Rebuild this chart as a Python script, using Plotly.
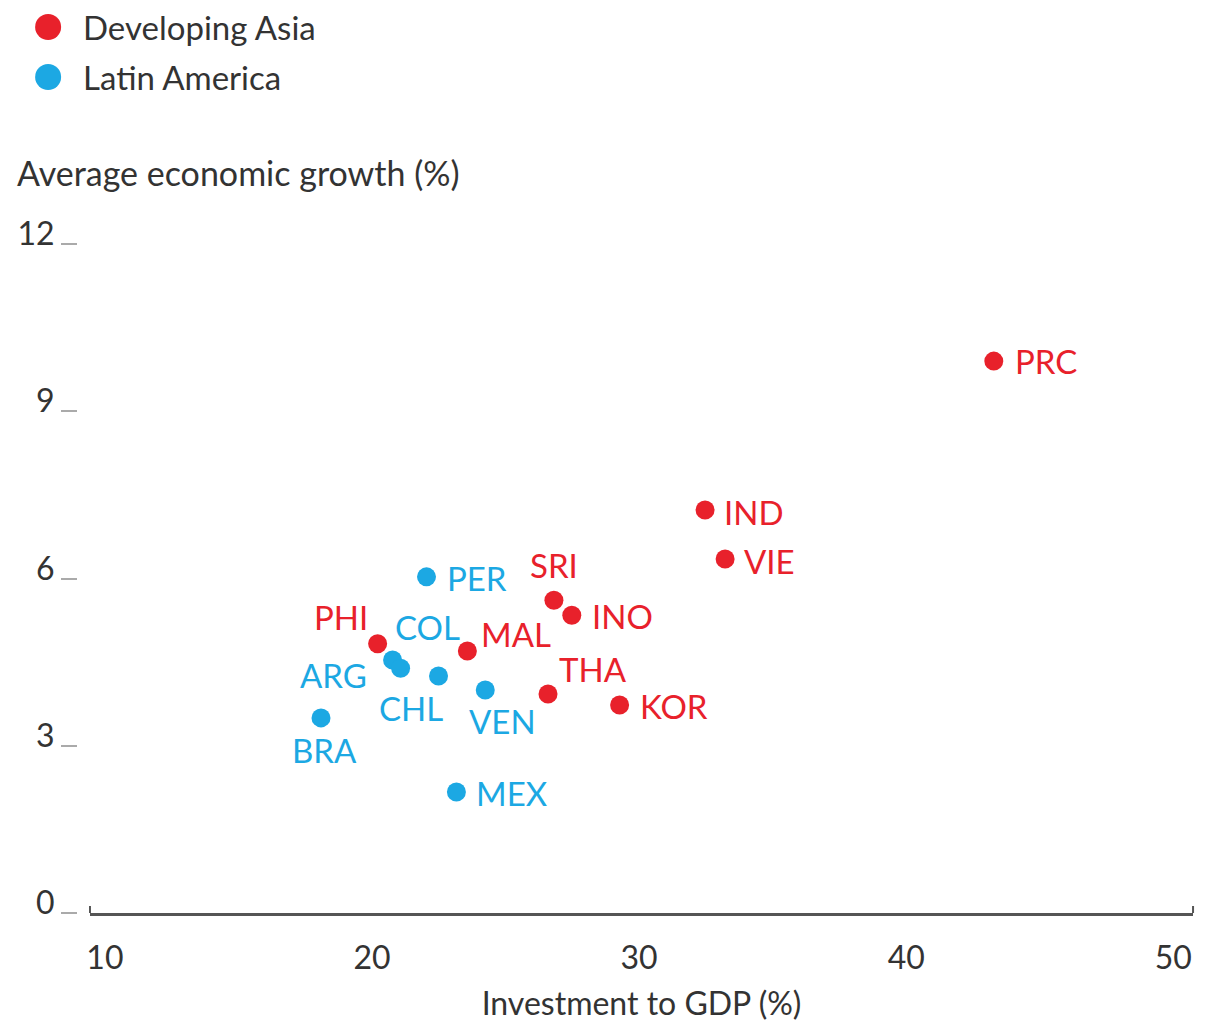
import plotly.graph_objects as go

# Investment to GDP (%) vs average economic growth (%)
asia_codes = ["PRC", "IND", "VIE", "SRI", "INO", "MAL", "PHI", "THA", "KOR"]
asia_invest = [43.28, 32.47, 33.22, 26.81, 27.48, 23.57, 20.21, 26.59, 29.27]
asia_growth = [9.90, 7.23, 6.35, 5.61, 5.34, 4.70, 4.83, 3.93, 3.73]

latam_codes = ["PER", "COL", "ARG", "CHL", "VEN", "BRA", "MEX"]
latam_invest = [22.04, 20.77, 21.07, 22.49, 24.24, 18.09, 23.16]
latam_growth = [6.03, 4.54, 4.39, 4.25, 4.00, 3.50, 2.17]

x_ticks = [10, 20, 30, 40, 50]
y_ticks = [0, 3, 6, 9, 12]

RED = "#e8212b"
BLUE = "#1ca8e3"
TXT = "#333333"
FONT = "Lato"

# label placement: (xanchor, xshift, yshift)
label_pos = {
    "PRC": ("left", 19, 0), "IND": ("left", 17, -2), "VIE": ("left", 17, -2),
    "SRI": ("center", 0, 35), "INO": ("left", 18, -1), "MAL": ("left", 12, 17),
    "PHI": ("right", -8, 27), "THA": ("left", 9, 25), "KOR": ("left", 18, -1),
    "PER": ("left", 18, -1), "COL": ("left", 0, 33), "ARG": ("right", -32, -7),
    "CHL": ("center", -28, -32), "VEN": ("center", 17, -31), "BRA": ("center", 3, -32),
    "MEX": ("left", 18, -1),
}

fig = go.Figure()
fig.add_trace(go.Scatter(x=asia_invest, y=asia_growth, mode="markers", name="Developing Asia",
                         marker=dict(color=RED, size=19), hovertext=asia_codes))
fig.add_trace(go.Scatter(x=latam_invest, y=latam_growth, mode="markers", name="Latin America",
                         marker=dict(color=BLUE, size=19), hovertext=latam_codes))

annotations = []
for codes, xs, ys, col in [(asia_codes, asia_invest, asia_growth, RED),
                           (latam_codes, latam_invest, latam_growth, BLUE)]:
    for c, xv, yv in zip(codes, xs, ys):
        anc, dx, dy = label_pos[c]
        annotations.append(dict(x=xv, y=yv, text=c, showarrow=False, xanchor=anc,
                                yanchor="middle", xshift=dx, yshift=dy,
                                font=dict(family=FONT, size=33, color=col)))

# y axis title at top left
annotations.append(dict(xref="paper", yref="paper", x=-0.0548, y=1.038, xanchor="left",
                        yanchor="middle", showarrow=False, text="Average economic growth (%)",
                        font=dict(family=FONT, size=34, color=TXT)))

# hand made legend
shapes = []
for i, (lbl, col) in enumerate([("Developing Asia", RED), ("Latin America", BLUE)]):
    ly = 1.2426 - i * 0.0701
    shapes.append(dict(type="circle", xref="paper", yref="paper", xsizemode="pixel",
                       ysizemode="pixel", xanchor=-0.0256, yanchor=ly, x0=-13, x1=13,
                       y0=-13, y1=13, fillcolor=col, line=dict(width=0)))
    annotations.append(dict(xref="paper", yref="paper", x=0.0035, y=ly, xanchor="left",
                            yanchor="middle", showarrow=False, text=lbl,
                            font=dict(family=FONT, size=33, color=TXT)))

# little upturned ends on the x axis line
for xe in [0, 1]:
    shapes.append(dict(type="line", xref="x domain", yref="y", ysizemode="pixel",
                       yanchor=0, x0=xe, x1=xe, y0=0, y1=7,
                       line=dict(color="#555555", width=2)))

fig.update_layout(
    width=1206, height=1020,
    margin=dict(l=64, r=9, t=192, b=115),
    plot_bgcolor="white", paper_bgcolor="white",
    showlegend=False,
    font=dict(family=FONT, size=32, color=TXT),
    annotations=annotations,
    shapes=shapes,
    xaxis=dict(domain=[0.0115, 0.9894], range=[9.44, 50.74], tickvals=x_ticks,
               showgrid=False, zeroline=False, showline=True, linecolor="#555555",
               linewidth=3, ticks="", ticklabelstandoff=15,
               title=dict(text="Investment to GDP (%)", standoff=18,
                          font=dict(family=FONT, size=32, color=TXT))),
    yaxis=dict(anchor="free", position=0, range=[0, 12.79], tickvals=y_ticks,
               showgrid=False, zeroline=False, showline=False, ticks="outside",
               ticklen=16, tickwidth=2, tickcolor="#aaaaaa", ticklabelshift=-10),
    yaxis2=dict(overlaying="y", side="right", anchor="free", position=1,
                range=[0, 12.79], tickvals=y_ticks, showgrid=False, zeroline=False,
                showline=False, ticks="outside", ticklen=9, tickwidth=2,
                tickcolor="#aaaaaa", showticklabels=False),
)

fig.write_html("out.html")
